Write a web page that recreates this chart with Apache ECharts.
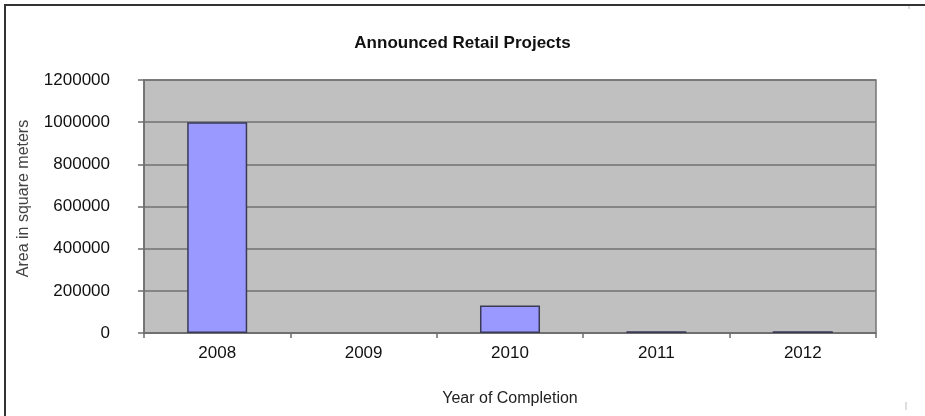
<!DOCTYPE html>
<html>
<head>
<meta charset="utf-8">
<script src="https://cdn.jsdelivr.net/npm/echarts@6/dist/echarts.min.js"></script>
<style>
  html, body { margin: 0; padding: 0; background: #fff; }
  #chart { width: 925px; height: 416px; }
</style>
</head>
<body>
<div id="chart"></div>
<script>
// Years of completion and announced retail floor area (m²)
const years = ['2008', '2009', '2010', '2011', '2012'];
const areaSqm = [1000000, 0, 130000, 8000, 8000];
const yMin = 0;
const yMax = 1200000;
const yStep = 200000;

const FONT = '"Liberation Sans", Arial, sans-serif';

// empty years get no outline so nothing is drawn on the baseline
const barData = areaSqm.map(v => v > 0 ? v : { value: v, itemStyle: { borderWidth: 0 } });

const chart = echarts.init(document.getElementById('chart'), null, { renderer: 'canvas' });

chart.setOption({
  backgroundColor: '#ffffff',
  animation: false,
  title: {
    text: 'Announced Retail Projects',
    left: 'center',
    top: 30,
    textStyle: { fontFamily: FONT, fontSize: 17, fontWeight: 'bold', color: '#111' }
  },
  grid: {
    left: 144, right: 49, top: 80, bottom: 83,
    show: true,
    backgroundColor: '#c0c0c0',
    borderColor: '#767676',
    borderWidth: 1.5
  },
  xAxis: {
    type: 'category',
    data: years,
    name: 'Year of Completion',
    nameLocation: 'middle',
    nameGap: 58,
    nameTextStyle: { fontFamily: FONT, fontSize: 16, color: '#222' },
    axisLine: { show: true, lineStyle: { color: '#6e6e6e', width: 1.5 } },
    axisTick: { show: true, alignWithLabel: false, length: 5, lineStyle: { color: '#6e6e6e', width: 1.5 } },
    axisLabel: { fontFamily: FONT, fontSize: 17, color: '#111', margin: 12 },
    splitLine: { show: false }
  },
  yAxis: {
    type: 'value',
    min: yMin,
    max: yMax,
    interval: yStep,
    name: 'Area in square meters',
    nameLocation: 'middle',
    nameRotate: 90,
    nameGap: 112,
    nameTextStyle: { fontFamily: FONT, fontSize: 16, color: '#444', padding: [0, 0, 0, 16] },
    axisLine: { show: true, lineStyle: { color: '#6e6e6e', width: 1.5 } },
    axisTick: { show: true, length: 6, lineStyle: { color: '#6e6e6e', width: 1.5 } },
    axisLabel: {
      fontFamily: FONT, fontSize: 17, color: '#111', margin: 34,
      formatter: v => String(v)
    },
    splitLine: { show: true, lineStyle: { color: '#727272', width: 1.5 } }
  },
  series: [{
    type: 'bar',
    data: barData,
    barWidth: '41%',
    itemStyle: { color: '#9999ff', borderColor: '#3a3a55', borderWidth: 1.5 }
  }],
  graphic: [
    // outer frame (left and top edges visible)
    { type: 'polyline', shape: { points: [[5, 416], [5, 5], [925, 5]] },
      style: { stroke: '#333', lineWidth: 2, fill: null } },
    { type: 'line', shape: { x1: 909, y1: 6, x2: 909, y2: 9 },
      style: { stroke: '#bbb', lineWidth: 1 } },
    { type: 'line', shape: { x1: 906, y1: 402, x2: 906, y2: 410 },
      style: { stroke: '#bbb', lineWidth: 1 } }
  ]
});
</script>
</body>
</html>
